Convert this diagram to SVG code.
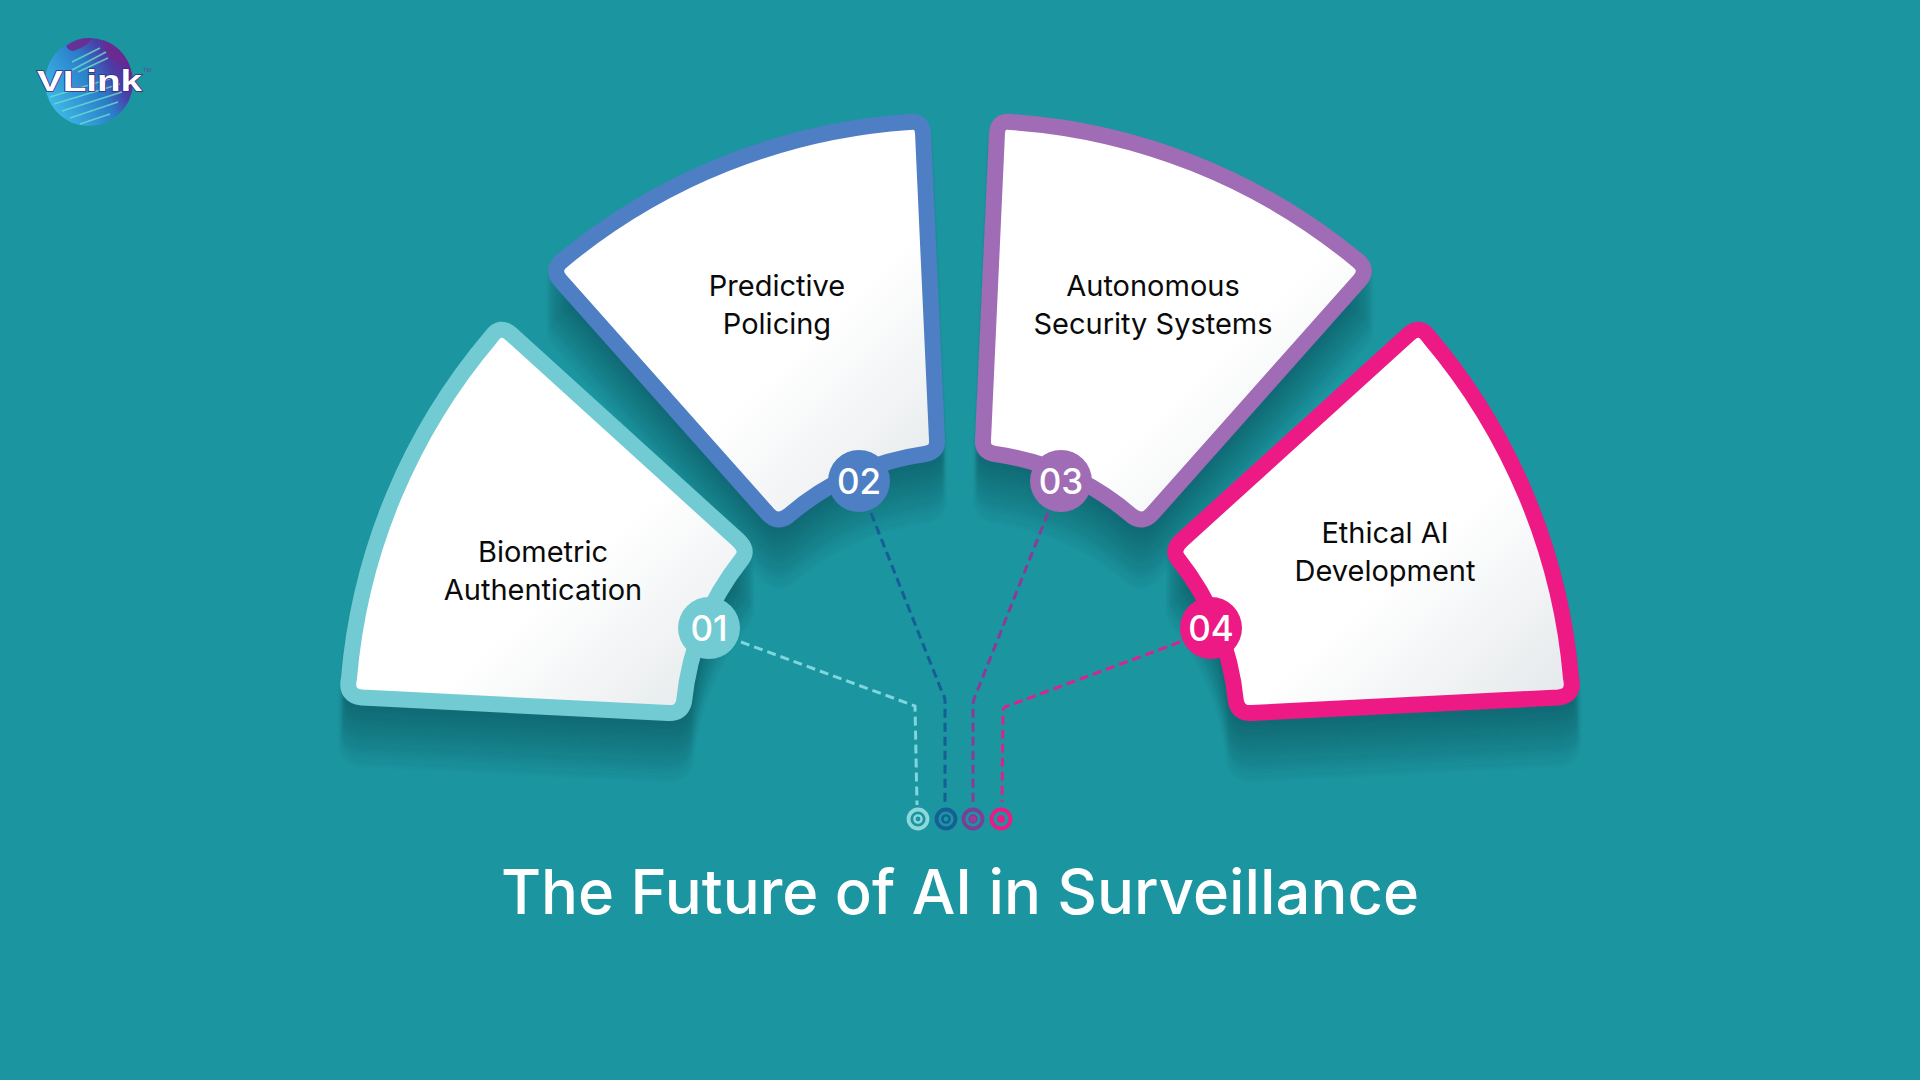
<svg xmlns="http://www.w3.org/2000/svg" xmlns:xlink="http://www.w3.org/1999/xlink" width="1920" height="1080" viewBox="0 0 1920 1080">
<style>
.card{fill:url(#paper);stroke-width:16;stroke-linejoin:round}
.lbl{font-family:"Inter","Noto Sans",sans-serif;font-size:29px;fill:#0a0a0a;text-anchor:middle}
.num{font-family:"Inter","Noto Sans",sans-serif;font-size:35px;font-weight:500;fill:#fff;text-anchor:middle}
.dash{fill:none;stroke-width:3;stroke-dasharray:9 5}
.ring{fill:none;stroke-width:3.8}
.title{font-family:"Inter","Noto Sans",sans-serif;font-size:61.5px;font-weight:500;fill:#fff;text-anchor:middle}
.c1{stroke:#72CBD2}.c2{stroke:#4E7FC4}.c3{stroke:#A06CB5}.c4{stroke:#ED1A86}
.f1{fill:#72CBD2}.f2{fill:#4E7FC4}.f3{fill:#A06CB5}.f4{fill:#ED1A86}
.stripe{stroke:#6fdcc8;stroke-width:1.7;fill:none;opacity:.8}
</style>
<defs>
<linearGradient id="paper" x1="0.35" y1="0.35" x2="0.95" y2="1"><stop offset="0.4" stop-color="#ffffff"/><stop offset="1" stop-color="#e4e8ea"/></linearGradient>
<linearGradient id="globe" x1="0.15" y1="0.85" x2="1" y2="0.35"><stop offset="0" stop-color="#3cb6e6"/><stop offset="0.55" stop-color="#2a7cc8"/><stop offset="0.78" stop-color="#4a3fa8"/><stop offset="1" stop-color="#6b2390"/></linearGradient>
<filter id="soft" x="-10%" y="-10%" width="120%" height="130%"><feGaussianBlur stdDeviation="1.6"/></filter>
<path id="s1" d="M349 678A608 608 0 0 1 491 337Q500 324 511 334L738 540Q749 550 742 559A275 275 0 0 0 684 702Q681 714 668 713L362 697.5Q345 696 349 678Z"/>
<path id="s2" d="M563 260A608 608 0 0 1 909 122Q922 120 923 133L937 440Q938 452 925 454A268 268 0 0 0 788 516Q777 524 768 514L560 280Q551 269 563 260Z"/>
<path id="s3" d="M1357 260A608 608 0 0 0 1011 122Q998 120 997 133L983 440Q982 452 995 454A268 268 0 0 1 1132 516Q1143 524 1152 514L1360 280Q1369 269 1357 260Z"/>
<path id="s4" d="M1571 678A608 608 0 0 0 1429 337Q1420 324 1409 334L1182 540Q1171 550 1178 559A275 275 0 0 1 1236 702Q1239 714 1252 713L1558 697.5Q1575 696 1571 678Z"/>
<g id="sil" stroke="#0a3a45" stroke-width="16" stroke-linejoin="round" fill="#0a3a45">
<use href="#s1"/><use href="#s2"/><use href="#s3"/><use href="#s4"/>
</g>
</defs>
<rect width="1920" height="1080" fill="#1B959F"/>
<g id="shadows" filter="url(#soft)">
<use href="#sil" y="5" opacity=".045"/><use href="#sil" y="10" opacity=".045"/><use href="#sil" y="15" opacity=".045"/><use href="#sil" y="20" opacity=".045"/>
<use href="#sil" y="25" opacity=".045"/><use href="#sil" y="30" opacity=".045"/><use href="#sil" y="35" opacity=".045"/><use href="#sil" y="40" opacity=".045"/>
<use href="#sil" y="45" opacity=".045"/><use href="#sil" y="50" opacity=".045"/><use href="#sil" y="55" opacity=".045"/><use href="#sil" y="60" opacity=".045"/>
</g>
<g id="logo">
<circle cx="89" cy="82" r="44" fill="url(#globe)"/>
<path d="M66 46Q78 37 92 38Q88 46 76 50Q70 53 66 46ZM103 40Q120 46 128 62Q118 64 110 58Q104 50 103 40Z" fill="#6b2a90" opacity=".9"/>
<path class="stripe" d="M72 62L100 48M72 70L106 52M78 72L108 58M50 97L112 78M54 104L120 84M62 111L122 92M70 118L118 102M80 124L110 114"/>
<text x="37" y="91" font-family="'Liberation Sans',sans-serif" font-size="30" font-weight="700" fill="#fff" stroke="#3b2a8c" stroke-width="1.4" paint-order="stroke" textLength="105" lengthAdjust="spacingAndGlyphs">VLink</text>
<text x="143" y="72" font-family="'Liberation Sans',sans-serif" font-size="6" fill="#5b4aa8">TM</text>
</g>
<g id="connectors">
<path class="dash" stroke="#7FD6DC" d="M741 642L915 706L917 805"/>
<path class="dash" stroke="#155F96" d="M871 513L942 692Q945 696 945 702L945 802"/>
<path class="dash" stroke="#8A3C96" d="M1048 513L976 694Q973 700 973 706L973 802"/>
<path class="dash" stroke="#D9248F" d="M1180 642L1005 707Q1003 708 1003 712L1002 802"/>
<circle class="ring" cx="918" cy="819" r="9.5" stroke="#8ED8DC"/><circle cx="918" cy="819" r="3.6" fill="none" stroke="#8ED8DC" stroke-width="2.4"/>
<circle class="ring" cx="946" cy="819" r="9.5" stroke="#155F96"/><circle cx="946" cy="819" r="3.6" fill="none" stroke="#155F96" stroke-width="2.4"/>
<circle class="ring" cx="973" cy="819" r="9.5" stroke="#7B3F98"/><circle cx="973" cy="819" r="4" fill="#A03A98" stroke="#7B3F98" stroke-width="1.5"/>
<circle class="ring" cx="1001" cy="819" r="9.5" stroke="#ED1A86"/><circle cx="1001" cy="819" r="4" fill="#ED1A86"/>
</g>
<g id="node1"><use href="#s1" class="card c1"/><circle cx="709" cy="628" r="31" class="f1"/><text x="709" y="641" class="num">01</text><text x="543" y="562" class="lbl">Biometric</text><text x="543" y="600" class="lbl">Authentication</text></g>
<g id="node2"><use href="#s2" class="card c2"/><circle cx="859" cy="481" r="31" class="f2"/><text x="859" y="494" class="num">02</text><text x="777" y="296" class="lbl">Predictive</text><text x="777" y="334" class="lbl">Policing</text></g>
<g id="node3"><use href="#s3" class="card c3"/><circle cx="1061" cy="481" r="31" class="f3"/><text x="1061" y="494" class="num">03</text><text x="1153" y="296" class="lbl">Autonomous</text><text x="1153" y="334" class="lbl">Security Systems</text></g>
<g id="node4"><use href="#s4" class="card c4"/><circle cx="1211" cy="628" r="31" class="f4"/><text x="1211" y="641" class="num">04</text><text x="1385" y="543" class="lbl">Ethical AI</text><text x="1385" y="581" class="lbl">Development</text></g>
<text id="title" x="960" y="914" class="title">The Future of AI in Surveillance</text>
</svg>
